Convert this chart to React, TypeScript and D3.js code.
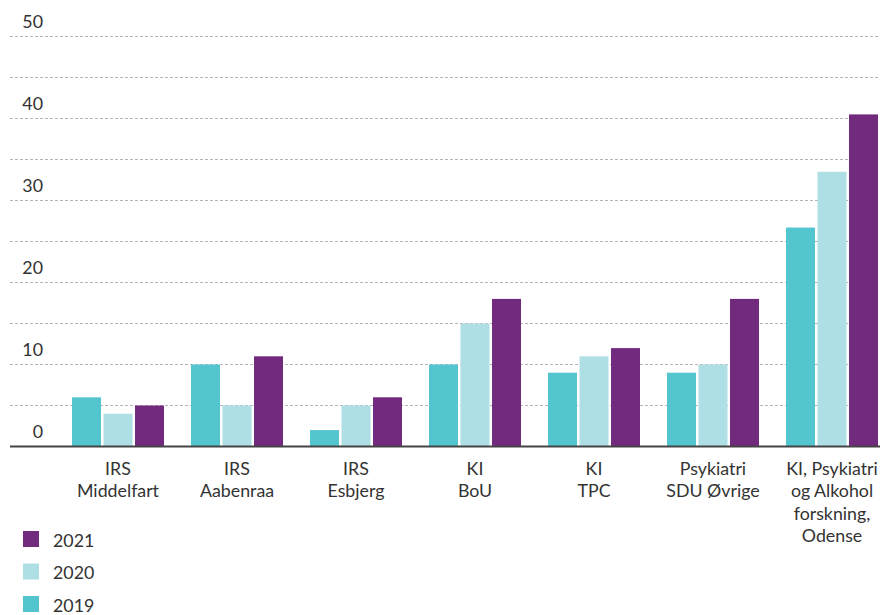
import React from 'react';
import * as d3 from 'd3';

const categories = [
  ['IRS', 'Middelfart'],
  ['IRS', 'Aabenraa'],
  ['IRS', 'Esbjerg'],
  ['KI', 'BoU'],
  ['KI', 'TPC'],
  ['Psykiatri', 'SDU Øvrige'],
  ['KI, Psykiatri', 'og Alkohol', 'forskning,', 'Odense'],
];
const years = ['2019', '2020', '2021'];
const values2019 = [6, 10, 2, 10, 9, 9, 26.7];
const values2020 = [4, 5, 5, 15, 11, 10, 33.5];
const values2021 = [5, 11, 6, 18, 12, 18, 40.5];
const yTicks = [0, 10, 20, 30, 40, 50];
const gridTicks = [5, 10, 15, 20, 25, 30, 35, 40, 45, 50];

const colors: Record<string, string> = {
  '2019': '#53c5cf',
  '2020': '#aedfe5',
  '2021': '#722a7f',
};

const W = 889;
const H = 615;

export default function App() {
  const series = [values2019, values2020, values2021];
  const keys = categories.map((c) => c.join(' '));

  const y = d3.scaleLinear().domain([0, 50]).range([446.5, 36.5]);
  const x = d3
    .scaleBand<string>()
    .domain(keys)
    .range([58.5, 58.5 + 7 * 119])
    .paddingInner(27 / 119)
    .paddingOuter(13.5 / 119);
  const xs = d3
    .scaleBand<string>()
    .domain(years)
    .range([0, x.bandwidth()])
    .paddingInner(0.08);

  const font = 'Lato, "Open Sans", sans-serif';
  const gridX0 = 10;
  const gridX1 = 880;
  const fs = 17.8;

  // legend, newest year on top
  const legendYears = [...years].reverse();

  return (
    <svg
      width={W}
      height={H}
      style={{ position: 'absolute', left: 0, top: 0, background: '#fff' }}
      fontFamily={font}
    >
      {gridTicks.map((t) => (
        <line
          key={t}
          x1={gridX0}
          x2={gridX1}
          y1={y(t)}
          y2={y(t)}
          stroke="#b5b5b5"
          strokeWidth={1}
          strokeDasharray="3,2"
        />
      ))}
      {yTicks.map((t) => (
        <text
          key={t}
          x={43}
          y={y(t) - 9}
          textAnchor="end"
          fontSize={fs}
          fill="#333"
        >
          {t}
        </text>
      ))}

      {keys.map((k, i) => (
        <g key={k} transform={`translate(${x(k)},0)`}>
          {years.map((yr, j) => (
            <rect
              key={yr}
              x={xs(yr)}
              y={y(series[j][i])}
              width={xs.bandwidth()}
              height={y(0) - y(series[j][i])}
              fill={colors[yr]}
            />
          ))}
          {categories[i].map((line, li) => (
            <text
              key={li}
              x={x.bandwidth() / 2}
              y={474.5 + li * 22.5}
              textAnchor="middle"
              fontSize={fs}
              fill="#333"
            >
              {line}
            </text>
          ))}
        </g>
      ))}

      <line x1={gridX0} x2={gridX1} y1={y(0)} y2={y(0)} stroke="#444" strokeWidth={2} />

      {legendYears.map((yr, i) => (
        <g key={yr} transform={`translate(23,${531 + i * 32.5})`}>
          <rect width={16} height={16} fill={colors[yr]} />
          <text x={30} y={15.5} fontSize={fs} fill="#333">
            {yr}
          </text>
        </g>
      ))}
    </svg>
  );
}
